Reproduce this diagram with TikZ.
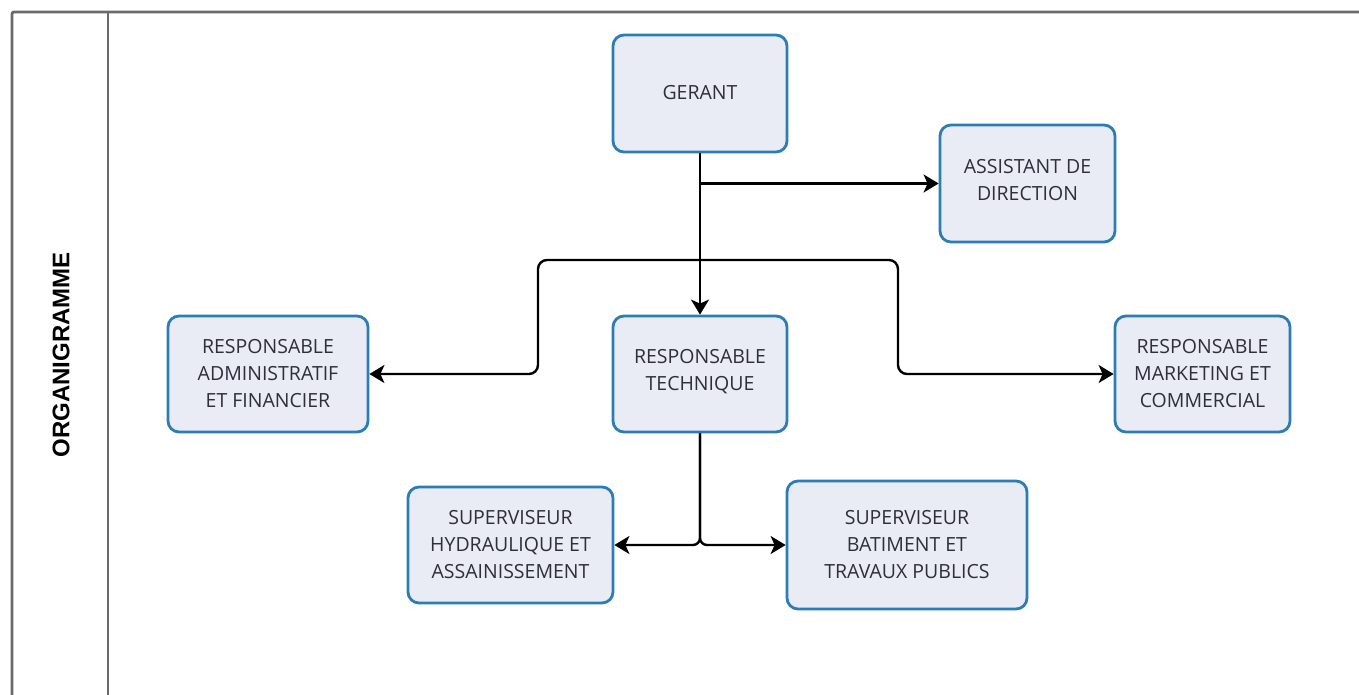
\documentclass[tikz,border=0pt]{standalone}
\usepackage{fontspec}
\setmainfont{Open Sans}
\newfontfamily\titlefont{Liberation Sans}
\usetikzlibrary{arrows.meta,calc}
\definecolor{boxfill}{HTML}{E9ECF5}
\definecolor{boxline}{HTML}{2C7DB5}
\definecolor{frameline}{HTML}{6A6A6A}
\definecolor{txt}{HTML}{2E2E3C}
\tikzset{
  orgbox/.style={draw=boxline, line width=2.8pt, fill=boxfill, rounded corners=11pt,
    inner sep=0pt, align=center, text=txt,
    font=\fontsize{19.5}{27}\selectfont},
  conn/.style={line width=2.4pt, black},
  arr/.style={conn, -{Stealth[length=15pt,width=18pt,inset=4pt]}},
  framestyle/.style={draw=frameline, line width=2.8pt}
}
\begin{document}
\begin{tikzpicture}[x=1pt,y=-1pt]
\useasboundingbox (0,0) rectangle (1359,695);
\fill[white] (0,0) rectangle (1359,695);
% frame
\draw[framestyle, rounded corners=2pt] (12,700) -- (12,12) -- (1365,12);
\draw[framestyle] (108,12) -- (108,700);
\node[rotate=90, font=\titlefont\bfseries\fontsize{24}{26}\selectfont] (title) at (61,355) {ORGANIGRAMME};
% boxes
\node[orgbox, minimum width=174pt, minimum height=117pt] (ger) at (700,93.5) {\raisebox{3pt}{GERANT}};
\node[orgbox, minimum width=175pt, minimum height=117pt] (ass) at (1027.5,183.5) {ASSISTANT DE\\DIRECTION\\[-19pt]\mbox{}};
\node[orgbox, minimum width=200pt, minimum height=116pt] (adm) at (268,374) {RESPONSABLE\\ADMINISTRATIF\\ET FINANCIER};
\node[orgbox, minimum width=174pt, minimum height=116pt] (tec) at (700,374) {RESPONSABLE\\TECHNIQUE\\[-18pt]\mbox{}};
\node[orgbox, minimum width=175pt, minimum height=116pt] (mkt) at (1202.5,374) {RESPONSABLE\\MARKETING ET\\COMMERCIAL};
\node[orgbox, minimum width=205pt, minimum height=116pt] (hyd) at (510.5,545) {SUPERVISEUR\\HYDRAULIQUE ET\\ASSAINISSEMENT};
\node[orgbox, minimum width=240pt, minimum height=128pt] (bat) at (907,545) {SUPERVISEUR\\BATIMENT ET\\TRAVAUX PUBLICS};
% coordinates
\coordinate (split) at (700,260);
\coordinate (lc) at (538,260);
\coordinate (rc) at (898,260);
\coordinate (low) at (700,545);
% connectors
\draw[arr] (ger.south) -- (tec.north);
\draw[arr] (ger.south |- ass.west) -- (ass.west);
\draw[arr, rounded corners=9pt] (split) -- (lc) -- (lc |- adm.east) -- (adm.east);
\draw[arr, rounded corners=9pt] (split) -- (rc) -- (rc |- mkt.west) -- (mkt.west);
\draw[arr, rounded corners=7pt] (tec.south) -- (low) -- (hyd.east);
\draw[arr, rounded corners=7pt] (tec.south) -- (low) -- (bat.west);
\end{tikzpicture}
\end{document}
